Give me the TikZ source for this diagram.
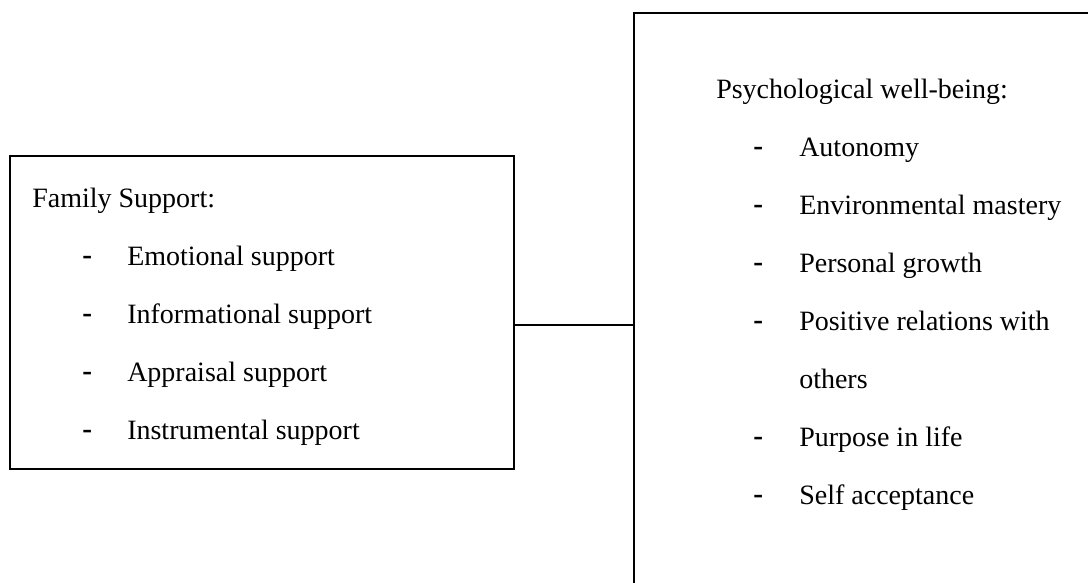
\documentclass[tikz,border=0pt]{standalone}
\usepackage{fontspec}
\setmainfont{Liberation Serif}
\usepackage{tikz}

\begin{document}
\begin{tikzpicture}[x=0.75pt,y=0.75pt,yscale=-1,xscale=1,
    frame/.style={draw,line width=1.5pt,inner sep=0pt},
    txt/.style={anchor=base west,inner sep=0pt,font=\fontsize{21}{25}\selectfont},
    dsh/.style={anchor=base west,inner sep=0pt,font=\fontsize{22}{25}\selectfont\bfseries}]
    \useasboundingbox (0,0) rectangle (1088,582);
    \clip (0,0) rectangle (1088,582);
    %Shape: Rectangle [id:family]
    \node [frame,minimum width=504*0.75pt,minimum height=313*0.75pt] (family) at (262,312.5) {};
    %Shape: Rectangle [id:wellbeing]
    \node [frame,minimum width=470*0.75pt,minimum height=590*0.75pt] (wellbeing) at (869,308) {};
    %Straight Lines [id:link]
    \draw [line width=1.5pt] (family.east |- 0,325) -- (wellbeing.west |- 0,325) ;
    % Text Node
    \node [txt] (famtitle) at (32,207.5) {Family Support:};
    \node [dsh] (d1) at (82,264.5) {-};
    \node [txt] (f1) at (127,265.5) {Emotional support};
    \node [dsh] (d2) at (82,322.5) {-};
    \node [txt] (f2) at (127,323.5) {Informational support};
    \node [dsh] (d3) at (82,380.5) {-};
    \node [txt] (f3) at (127,381.5) {Appraisal support};
    \node [dsh] (d4) at (82,438.5) {-};
    \node [txt] (f4) at (127,439.5) {Instrumental support};
    % Text Node
    \node [txt] (pwbtitle) at (716,98.5) {Psychological well-being:};
    \node [dsh] (e1) at (753,155.5) {-};
    \node [txt] (p1) at (799,156.5) {Autonomy};
    \node [dsh] (e2) at (753,213.5) {-};
    \node [txt] (p2) at (799,214.5) {Environmental mastery};
    \node [dsh] (e3) at (753,271.5) {-};
    \node [txt] (p3) at (799,272.5) {Personal growth};
    \node [dsh] (e4) at (753,329.5) {-};
    \node [txt] (p4) at (799,330.5) {Positive relations with};
    \node [txt] (p4b) at (799,388.5) {others};
    \node [dsh] (e5) at (753,445.5) {-};
    \node [txt] (p5) at (799,446.5) {Purpose in life};
    \node [dsh] (e6) at (753,503.5) {-};
    \node [txt] (p6) at (799,504.5) {Self acceptance};
\end{tikzpicture}
\end{document}
